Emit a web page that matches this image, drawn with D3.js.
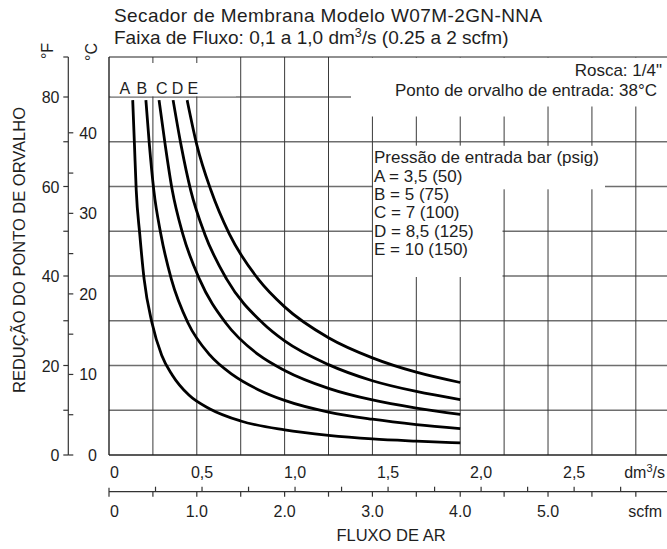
<!DOCTYPE html>
<html><head><meta charset="utf-8">
<script src="https://cdnjs.cloudflare.com/ajax/libs/d3/7.8.5/d3.min.js"></script>
<style>
body{margin:0;background:#fff;}
svg{display:block;}
text{font-family:"Liberation Sans",Arial,Helvetica,sans-serif;fill:#1e1e1e;}
</style>
</head><body>
<svg id="c" width="667" height="549"></svg>
<script>
// ---------- data (flow in scfm, dew point reduction in °F) ----------
const seriesNames = ["A","B","C","D","E"];
const flowA = [0.27,0.29,0.31,0.35,0.40,0.49,0.60,0.72,0.91,1.15,1.5,2.0,2.5,3.0,3.5,4.0];
const dewA  = [79.3,69.3,59.2,49.4,39.3,29.5,22.3,17.9,13.4,10.3,7.6,5.6,4.4,3.6,3.1,2.7];
const flowB = [0.42,0.46,0.51,0.59,0.71,0.90,1.15,1.41,1.70,2.0,2.5,3.0,3.5,4.0];
const dewB  = [79.3,69.3,59.2,49.4,39.3,29.5,22.3,17.9,14.6,12.2,9.6,8.0,6.8,5.9];
const flowC = [0.57,0.64,0.72,0.84,1.03,1.33,1.71,2.0,2.5,3.0,3.5,4.0];
const dewC  = [79.3,69.3,59.2,49.4,39.3,29.5,22.3,18.9,14.9,12.3,10.5,9.1];
const flowD = [0.73,0.82,0.93,1.09,1.34,1.75,2.0,2.5,3.0,3.5,4.0];
const dewD  = [79.3,69.3,59.2,49.4,39.3,29.5,25.5,20.2,16.6,14.2,12.4];
const flowE = [0.89,1.00,1.16,1.37,1.70,2.0,2.5,3.0,3.5,4.0];
const dewE  = [79.3,69.3,59.2,49.4,39.3,33.1,26.2,21.7,18.5,16.2];
const labelFlow = [0.18,0.375,0.60,0.78,0.955];   // where the letters A..E sit

const dmTicks  = [0,0.5,1.0,1.5,2.0,2.5];
const dmLabels = ["0","0,5","1,0","1,5","2,0","2,5"];
const scfmTicks  = [0,1,2,3,4,5];
const scfmLabels = ["0","1.0","2.0","3.0","4.0","5.0"];
const fTicks = [0,20,40,60,80];
const cTicks = [0,10,20,30,40];
const legendLines = ["Pressão de entrada bar (psig)","A = 3,5 (50)","B = 5 (75)","C = 7 (100)","D = 8,5 (125)","E = 10 (150)"];
const DM_TO_SCFM = 2.1189;

const series = [
  {name:"A", flow:flowA, dew:dewA},
  {name:"B", flow:flowB, dew:dewB},
  {name:"C", flow:flowC, dew:dewC},
  {name:"D", flow:flowD, dew:dewD},
  {name:"E", flow:flowE, dew:dewE}
];

// ---------- layout ----------
const L = 109, R = 667, B = 455, T = 57;
const x = d3.scaleLinear().domain([0, 6.355]).range([L, R]);
const y = d3.scaleLinear().domain([0, 80]).range([B, 97]);
const yC = c => y(c * 1.8);

const svg = d3.select("#c");
const gridH = d3.range(10, 81, 10);
const gridV = d3.range(0.5, 6.01, 0.5);

// grid
svg.append("g").selectAll("line").data(gridH).join("line")
  .attr("x1", L).attr("x2", R).attr("y1", d => y(d)).attr("y2", d => y(d))
  .attr("stroke", "#6e6e6e").attr("stroke-width", 1.4);
svg.append("g").selectAll("line").data(gridV).join("line")
  .attr("x1", d => x(d)).attr("x2", d => x(d)).attr("y1", T).attr("y2", B)
  .attr("stroke", "#3a3a3a").attr("stroke-width", 1);

// white areas behind texts
const wr = (x0,y0,x1,y1) => svg.append("rect").attr("x",x0).attr("y",y0)
  .attr("width",x1-x0).attr("height",y1-y0).attr("fill","#fff");
wr(110.5, 63, 236, 96.3);
wr(351, 57.5, 667, 106.5);
wr(351, 106, 520, 116.5);
wr(373, 145.8, 605, 189.3);
wr(373, 145.8, 502.5, 277);

// plot frame
svg.append("line").attr("x1",L).attr("x2",R).attr("y1",T).attr("y2",T).attr("stroke","#222").attr("stroke-width",1.2);
svg.append("line").attr("x1",L).attr("x2",L).attr("y1",T).attr("y2",B).attr("stroke","#222").attr("stroke-width",1.4);
svg.append("line").attr("x1",L).attr("x2",R).attr("y1",B).attr("y2",B).attr("stroke","#222").attr("stroke-width",1.6);

// curves
const line = d3.line().x(d => x(d[0])).y(d => y(d[1])).curve(d3.curveMonotoneX);
svg.append("g").selectAll("path").data(series).join("path")
  .attr("d", s => line(s.flow.map((f,i) => [f, s.dew[i]])))
  .attr("fill","none").attr("stroke","#000").attr("stroke-width",2.8);

// curve letters
svg.append("g").selectAll("text").data(seriesNames).join("text")
  .attr("x", (d,i) => x(labelFlow[i])).attr("y", 94).attr("text-anchor","middle")
  .attr("font-size", 16).text(d => d);

// left axis (°F / °C)
const AX = 68.3;
svg.append("line").attr("x1",AX).attr("x2",AX).attr("y1",T).attr("y2",B).attr("stroke","#333").attr("stroke-width",1.2);
svg.append("line").attr("x1",AX-5).attr("x2",AX).attr("y1",T).attr("y2",T).attr("stroke","#333").attr("stroke-width",1.2);
svg.append("g").selectAll("line").data(d3.range(0, 81, 10)).join("line")
  .attr("x1",AX-5).attr("x2",AX).attr("y1",d=>y(d)).attr("y2",d=>y(d)).attr("stroke","#333").attr("stroke-width",1.2);
svg.append("g").selectAll("line").data(d3.range(0, 41, 5)).join("line")
  .attr("x1",AX).attr("x2",AX+5).attr("y1",d=>yC(d)).attr("y2",d=>yC(d)).attr("stroke","#333").attr("stroke-width",1.2);
svg.append("g").selectAll("text").data(fTicks).join("text")
  .attr("x", 59.5).attr("y", d => y(d) + 6).attr("text-anchor","end").attr("font-size",16).text(d => d);
svg.append("g").selectAll("text").data(cTicks).join("text")
  .attr("x", 97).attr("y", d => yC(d) + 6).attr("text-anchor","end").attr("font-size",16).text(d => d);
svg.append("text").attr("transform","translate(53,51) rotate(-90)").attr("text-anchor","middle").attr("font-size",16).text("°F");
svg.append("text").attr("transform","translate(97,52) rotate(-90)").attr("text-anchor","middle").attr("font-size",16).text("°C");
svg.append("text").attr("transform","translate(25,250) rotate(-90)").attr("text-anchor","middle").attr("font-size",16.5)
  .text("REDUÇÃO DO PONTO DE ORVALHO");

// bottom: dm3/s labels
svg.append("g").selectAll("text").data(dmTicks).join("text")
  .attr("x", (d,i) => i === 0 ? x(0) + 1 : x(d * DM_TO_SCFM))
  .attr("y", 478).attr("text-anchor", (d,i) => i === 0 ? "start" : "middle")
  .attr("font-size",16).text((d,i) => dmLabels[i]);
const dmU = svg.append("text").attr("x", 665).attr("y", 478).attr("text-anchor","end").attr("font-size",16);
dmU.append("tspan").text("dm");
dmU.append("tspan").attr("font-size",11).attr("dy",-6).text("3");
dmU.append("tspan").attr("dy",6).text("/s");

// secondary scfm axis
const SY = 491.7;
svg.append("line").attr("x1",L).attr("x2",R).attr("y1",SY).attr("y2",SY).attr("stroke","#333").attr("stroke-width",1.2);
svg.append("line").attr("x1",L).attr("x2",L).attr("y1",SY-4).attr("y2",SY+5).attr("stroke","#333").attr("stroke-width",1.2);
svg.append("g").selectAll("line").data(d3.range(0.25, 2.9, 0.25)).join("line")
  .attr("x1", d => x(d*DM_TO_SCFM)).attr("x2", d => x(d*DM_TO_SCFM)).attr("y1",SY-5).attr("y2",SY)
  .attr("stroke","#333").attr("stroke-width",1.2);
svg.append("g").selectAll("line").data(d3.range(0.5, 6.01, 0.5)).join("line")
  .attr("x1", d => x(d)).attr("x2", d => x(d)).attr("y1",SY).attr("y2",SY+5)
  .attr("stroke","#333").attr("stroke-width",1.2);
svg.append("g").selectAll("text").data(scfmTicks).join("text")
  .attr("x", (d,i) => i === 0 ? x(0) + 1 : x(d))
  .attr("y", 517).attr("text-anchor", (d,i) => i === 0 ? "start" : "middle")
  .attr("font-size",16).text((d,i) => scfmLabels[i]);
svg.append("text").attr("x", 662).attr("y", 517).attr("text-anchor","end").attr("font-size",16).text("scfm");
svg.append("text").attr("x", (L+R)/2 + 3).attr("y", 541).attr("text-anchor","middle").attr("font-size",16.5).text("FLUXO DE AR");

// titles
svg.append("text").attr("x",114).attr("y",22).attr("font-size",19).attr("letter-spacing",0.4).text("Secador de Membrana Modelo W07M-2GN-NNA");
const t2 = svg.append("text").attr("x",114).attr("y",44).attr("font-size",19);
t2.append("tspan").text("Faixa de Fluxo: 0,1 a 1,0 dm");
t2.append("tspan").attr("font-size",12.5).attr("dy",-7).text("3");
t2.append("tspan").attr("dy",7).text("/s (0.25 a 2 scfm)");

svg.append("text").attr("x",662).attr("y",76).attr("text-anchor","end").attr("font-size",17).text("Rosca: 1/4\"");
svg.append("text").attr("x",657).attr("y",96).attr("text-anchor","end").attr("font-size",17).text("Ponto de orvalho de entrada: 38°C");

// legend
svg.append("g").selectAll("text").data(legendLines).join("text")
  .attr("x", 374).attr("y", (d,i) => 163.3 + i * 18.35).attr("font-size",17).text(d => d);
</script>
</body></html>
